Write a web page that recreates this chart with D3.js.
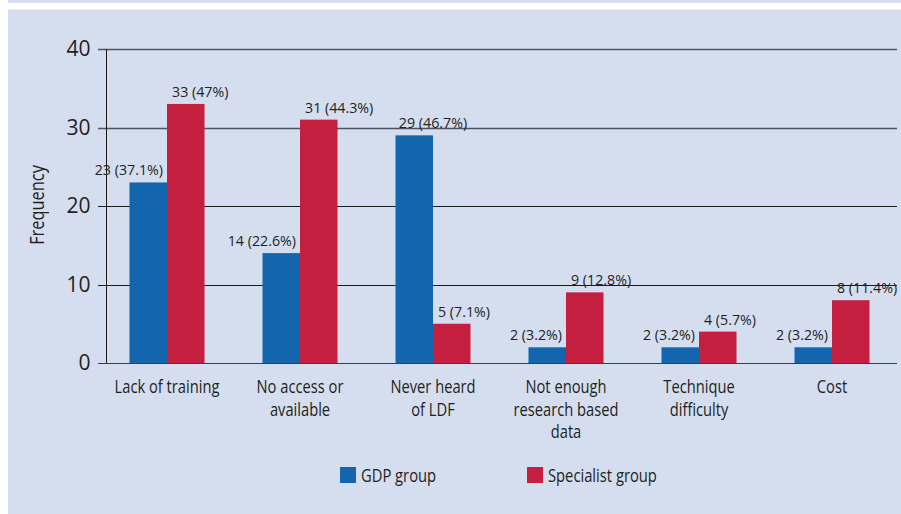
<!DOCTYPE html>
<html>
<head>
<meta charset="utf-8">
<script src="https://cdn.jsdelivr.net/npm/d3@7"></script>
<style>
  html, body { margin: 0; padding: 0; background: #ffffff; }
  svg { display: block; }
  text { font-family: "Open Sans", sans-serif; fill: #231f20; }
</style>
</head>
<body>
<svg id="chart" width="901" height="514"></svg>
<script>
// ---- data ----
const categories = [
  ["Lack of training"],
  ["No access or", "available"],
  ["Never heard", "of LDF"],
  ["Not enough", "research based", "data"],
  ["Technique", "difficulty"],
  ["Cost"]
];
const seriesNames = ["GDP group", "Specialist group"];
const gdpValues = [23, 14, 29, 2, 2, 2];
const gdpPercents = ["37.1", "22.6", "46.7", "3.2", "3.2", "3.2"];
const specialistValues = [33, 31, 5, 9, 4, 8];
const specialistPercents = ["47", "44.3", "7.1", "12.8", "5.7", "11.4"];
const yTicks = [0, 10, 20, 30, 40];

// ---- setup ----
const W = 901, H = 514;
const SX = 0.82;      // horizontal condensing for the narrow source typeface
const svg = d3.select("#chart");
const colors = { "GDP group": "#1366ae", "Specialist group": "#c41f3e" };

// background panel
svg.append("rect").attr("x", 8).attr("y", 0).attr("width", W - 8).attr("height", 3).attr("fill", "#d5deef");
svg.append("rect").attr("x", 8).attr("y", 9.5).attr("width", W - 8).attr("height", H - 9.5).attr("fill", "#d5deef");

const plotLeft = 106, plotRight = 897, plotTop = 49, plotBottom = 363;

const y = d3.scaleLinear().domain([0, 40]).range([plotBottom, plotTop]);
const keys = categories.map((c, i) => i);
const x0 = d3.scaleBand().domain(keys).range([100.5, 898.5]).padding(0);
const x1 = d3.scaleBand().domain(seriesNames).range([0, x0.bandwidth()]).paddingInner(0).paddingOuter(0.773);

// gridlines
const grid = svg.append("g");
yTicks.forEach(t => {
  grid.append("line")
    .attr("x1", plotLeft - 8).attr("x2", plotRight)
    .attr("y1", Math.round(y(t)) + 0.5).attr("y2", Math.round(y(t)) + 0.5)
    .attr("stroke", t >= 30 ? "#4d5360" : "#1a1a1a")
    .attr("stroke-width", t >= 30 ? 1.4 : 1);
});

// y axis (line + labels) via d3.axisLeft
const yAxis = d3.axisLeft(y).tickValues(yTicks).tickSize(0).tickPadding(16);
const gy = svg.append("g").attr("transform", `translate(${plotLeft + 0.5},0)`).call(yAxis);
gy.select(".domain").attr("stroke", "#1a1a1a").attr("d", `M0,${plotTop}V${plotBottom}`);
gy.selectAll("text").attr("font-size", 21).attr("font-family", "'Open Sans',sans-serif").attr("fill", "#231f20");

// y label
svg.append("text")
  .attr("transform", `translate(44,205) rotate(-90) scale(${SX},1)`)
  .attr("text-anchor", "middle")
  .attr("font-size", 20)
  .text("Frequency");

// bars
const rows = keys.map(i => ({
  i,
  vals: [
    { s: "GDP group", v: gdpValues[i], p: gdpPercents[i] },
    { s: "Specialist group", v: specialistValues[i], p: specialistPercents[i] }
  ]
}));

const groups = svg.append("g").selectAll("g").data(rows).join("g")
  .attr("transform", d => `translate(${x0(d.i)},0)`);

groups.selectAll("rect").data(d => d.vals).join("rect")
  .attr("x", d => x1(d.s))
  .attr("width", x1.bandwidth())
  .attr("y", d => y(d.v))
  .attr("height", d => y(0) - y(d.v))
  .attr("fill", d => colors[d.s]);

// redraw baseline over bars
svg.append("line")
  .attr("x1", plotLeft - 8).attr("x2", plotRight)
  .attr("y1", Math.round(y(0)) + 0.5).attr("y2", Math.round(y(0)) + 0.5)
  .attr("stroke", "#3a3f48").attr("stroke-width", 1.2);

// value labels
const VS = 0.95;
groups.each(function(d) {
  const g = d3.select(this);
  const gdp = d.vals[0], sp = d.vals[1];
  const gdpRight = x1("GDP group") + x1.bandwidth();
  const spLeft = x1("Specialist group");
  let gx, anchor;
  if (sp.v > gdp.v) { gx = gdpRight - 4; anchor = "end"; }
  else { gx = gdpRight; anchor = "middle"; }
  g.append("text").attr("font-size", 15)
    .attr("text-anchor", anchor)
    .attr("transform", `translate(${gx},${y(gdp.v) - 7}) scale(${VS},1)`)
    .text(`${gdp.v} (${gdp.p}%)`);
  g.append("text").attr("font-size", 15)
    .attr("text-anchor", "start")
    .attr("transform", `translate(${spLeft + 5},${y(sp.v) - 7}) scale(${VS},1)`)
    .text(`${sp.v} (${sp.p}%)`);
});

// category labels (one text per line)
const catG = svg.append("g");
categories.forEach((lines, i) => {
  const cx = x0(i) + x0.bandwidth() / 2;
  lines.forEach((ln, j) => {
    catG.append("text")
      .attr("text-anchor", "middle")
      .attr("font-size", 17.5)
      .attr("transform", `translate(${cx},${393 + j * 22.7}) scale(0.84,1)`)
      .text(ln);
  });
});

// legend
const legendX = [340, 527];
seriesNames.forEach((s, i) => {
  svg.append("rect").attr("x", legendX[i]).attr("y", 467).attr("width", 16).attr("height", 16).attr("fill", colors[s]);
  svg.append("text")
    .attr("transform", `translate(${legendX[i] + 21},482) scale(${SX},1)`)
    .attr("font-size", 18).text(s);
});
</script>
</body>
</html>
